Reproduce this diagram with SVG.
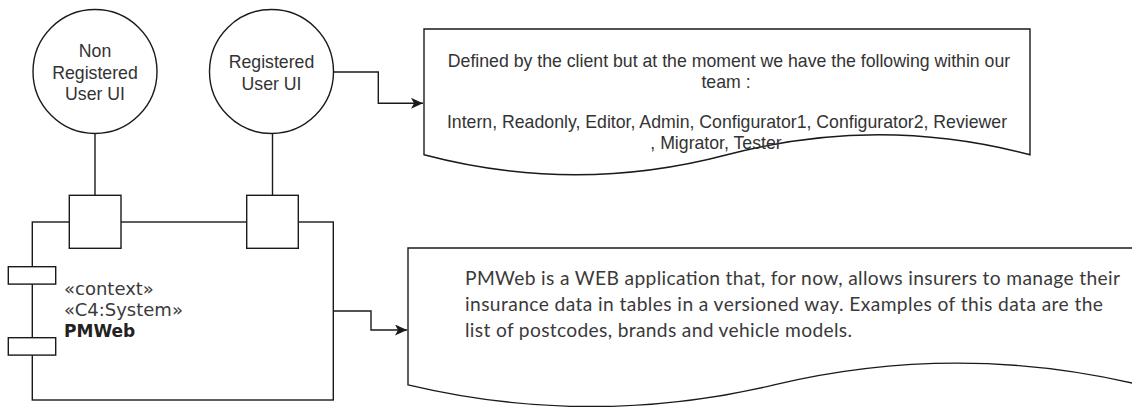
<svg xmlns="http://www.w3.org/2000/svg" width="1132" height="407" viewBox="0 0 1132 407">
  <style>
    .shape { fill: #ffffff; stroke: #1a1a1a; stroke-width: 1.4; }
    .edge { fill: none; stroke: #1a1a1a; stroke-width: 1.4; }
    .label { font-family: "Liberation Sans", Arial, sans-serif; font-size: 17.7px; fill: #333333; text-anchor: middle; }
    .stereo { font-family: "DejaVu Sans", Verdana, sans-serif; font-size: 18px; fill: #3a3a3a; }
    .name { font-family: "DejaVu Sans", Verdana, sans-serif; font-size: 17px; font-weight: bold; fill: #222222; }
    .desc { font-family: Lato, "Open Sans", sans-serif; font-size: 19.2px; fill: #3a3a3a; }
  </style>
  <defs>
    <marker id="arrow" markerUnits="userSpaceOnUse" markerWidth="13" markerHeight="12" refX="12" refY="5.5" orient="auto">
      <path d="M0,0 L12,5.5 L0,11 L3,5.5 Z" fill="#1a1a1a"/>
    </marker>
  </defs>

  <!-- connectors -->
  <g id="connectors">
    <path class="edge" d="M95,133.5 V195.3"/>
    <path class="edge" d="M272.5,133.5 V195.3"/>
    <path class="edge" d="M333.5,72 H378.3 V103.3 H423" marker-end="url(#arrow)"/>
    <path class="edge" d="M333.3,311 H371 V330 H407" marker-end="url(#arrow)"/>
  </g>

  <!-- interface actor: non registered users -->
  <g id="non-registered-ui">
    <circle class="shape" cx="95" cy="71.5" r="62"/>
    <text class="label" x="95" y="57">Non</text>
    <text class="label" x="95" y="78.5">Registered</text>
    <text class="label" x="95" y="100">User UI</text>
  </g>

  <!-- interface actor: registered users -->
  <g id="registered-ui">
    <circle class="shape" cx="271.5" cy="71.5" r="62"/>
    <text class="label" x="271.5" y="68">Registered</text>
    <text class="label" x="271.5" y="89.5">User UI</text>
  </g>

  <!-- system component with ports -->
  <g id="pmweb-system">
    <rect class="shape" x="32.3" y="222" width="301" height="178"/>
    <rect class="shape" x="8.3" y="266.7" width="47.4" height="17.4"/>
    <rect class="shape" x="8.3" y="337.7" width="47.4" height="17.4"/>
    <text class="stereo" x="64" y="295">«context»</text>
    <text class="stereo" x="64" y="316">«C4:System»</text>
    <text class="name" x="64" y="337">PMWeb</text>
  </g>
  <g id="port-non-registered">
    <rect class="shape" x="69.3" y="195.3" width="51.7" height="53"/>
  </g>
  <g id="port-registered">
    <rect class="shape" x="246.7" y="195.3" width="51.6" height="53"/>
  </g>

  <!-- note: user roles -->
  <g id="roles-note">
    <path class="shape" d="M424,29 H1030 V154.8 Q878.5,114.8 727,154.8 Q575.5,194.8 424,154.8 Z"/>
    <text class="label" x="729" y="67">Defined by the client but at the moment we have the following within our</text>
    <text class="label" x="726" y="87.5">team :</text>
    <text class="label" x="727" y="128">Intern, Readonly, Editor, Admin, Configurator1, Configurator2, Reviewer</text>
    <text class="label" x="716" y="149">, Migrator, Tester</text>
  </g>

  <!-- note: system description -->
  <g id="description-note">
    <path class="shape" d="M408,248 H1140 V384.85 Q957,341.4 774,384.85 Q591,428.3 408,384.85 Z"/>
    <text class="desc" x="465" y="285" textLength="655" lengthAdjust="spacing">PMWeb is a WEB application that, for now, allows insurers to manage their</text>
    <text class="desc" x="465" y="311" textLength="638" lengthAdjust="spacing">insurance data in tables in a versioned way. Examples of this data are the</text>
    <text class="desc" x="465" y="337" textLength="387" lengthAdjust="spacing">list of postcodes, brands and vehicle models.</text>
  </g>
</svg>
